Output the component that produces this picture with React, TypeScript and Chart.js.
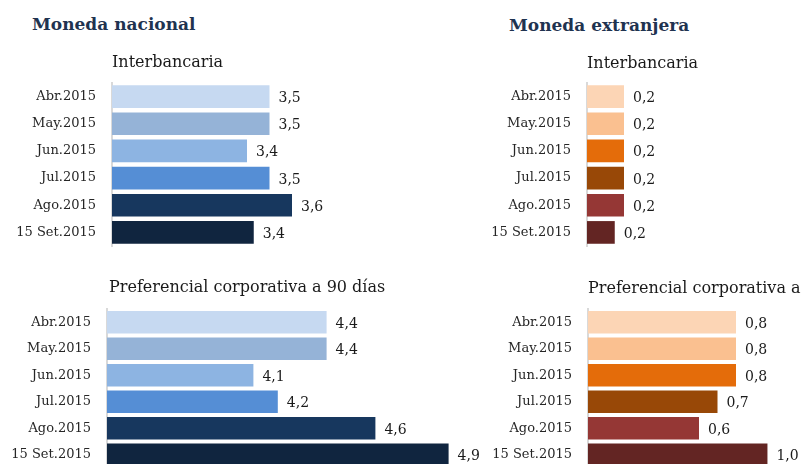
import React, { useEffect, useRef } from "react";
import { Chart, registerables } from "chart.js";

Chart.register(...registerables);

const categories = ["Abr.2015", "May.2015", "Jun.2015", "Jul.2015", "Ago.2015", "15 Set.2015"];

const mnInterbancaria = [3.5, 3.5, 3.4, 3.5, 3.6, 3.43];
const mnPreferencial = [4.4, 4.4, 4.1, 4.2, 4.6, 4.9];
const meInterbancaria = [0.2, 0.2, 0.2, 0.2, 0.2, 0.15];
const mePreferencial = [0.8, 0.8, 0.8, 0.7, 0.6, 0.97];

const blueColors = ["#C6D9F1", "#95B3D7", "#8DB4E2", "#558ED5", "#17375E", "#10253F"];
const orangeColors = ["#FCD5B5", "#FAC090", "#E46C0A", "#984807", "#953735", "#632523"];

const SERIF = "'DejaVu Serif', serif";

function fmt(v: number): string {
  return (Math.round(v * 10) / 10).toFixed(1).replace(".", ",");
}

const valueLabels = {
  id: "valueLabels",
  afterDatasetsDraw(chart: any) {
    const ctx = chart.ctx;
    const meta = chart.getDatasetMeta(0);
    const data = chart.data.datasets[0].data as number[];
    ctx.save();
    ctx.font = `14px ${SERIF}`;
    ctx.fillStyle = "#1a1a1a";
    ctx.textAlign = "left";
    ctx.textBaseline = "alphabetic";
    meta.data.forEach((bar: any, i: number) => {
      ctx.fillText(fmt(data[i]), bar.x + 9, bar.y + 5.5);
    });
    ctx.restore();
  },
};

const subtitlePlugin = {
  id: "subtitleAtAxis",
  afterDraw(chart: any, _args: any, opts: any) {
    const ctx = chart.ctx;
    ctx.save();
    ctx.font = `16px ${SERIF}`;
    ctx.fillStyle = "#1a1a1a";
    ctx.textAlign = "left";
    ctx.textBaseline = "alphabetic";
    ctx.fillText(opts.text, chart.chartArea.left + (opts.dx || 0), opts.y);
    ctx.restore();
  },
};

type PanelProps = {
  left: number;
  top: number;
  width: number;
  height: number;
  axisWidth: number;
  values: number[];
  colors: string[];
  min: number;
  max: number;
  subtitle: string;
  subtitleY: number;
  subtitleDx: number;
  barPct: number;
};

function BarPanel(p: PanelProps) {
  const ref = useRef<HTMLCanvasElement | null>(null);
  useEffect(() => {
    if (!ref.current) return;
    const chart = new Chart(ref.current, {
      type: "bar",
      data: {
        labels: categories,
        datasets: [
          {
            data: p.values,
            backgroundColor: p.colors,
            borderWidth: 0,
            barPercentage: p.barPct,
            categoryPercentage: 1,
          },
        ],
      },
      options: {
        indexAxis: "y",
        animation: false,
        responsive: false,
        maintainAspectRatio: false,
        devicePixelRatio: 1,
        layout: { padding: { top: 40, bottom: 2, left: 0, right: 0 } },
        plugins: {
          legend: { display: false },
          tooltip: { enabled: false },
          title: { display: false },
          subtitleAtAxis: { text: p.subtitle, y: p.subtitleY, dx: p.subtitleDx },
        } as any,
        scales: {
          x: {
            display: false,
            min: p.min,
            max: p.max,
            grid: { display: false },
          },
          y: {
            grid: { display: false, drawTicks: false },
            border: { display: true, color: "#D9D9D9", width: 2 },
            ticks: {
              padding: 16,
              color: "#262626",
              font: { family: SERIF, size: 13 },
            },
            afterFit(scale: any) {
              scale.width = p.axisWidth;
              scale.paddingTop = 0;
              scale.paddingBottom = 0;
            },
          },
        },
      },
      plugins: [valueLabels, subtitlePlugin],
    });
    return () => chart.destroy();
  }, []);
  return (
    <canvas
      ref={ref}
      width={p.width}
      height={p.height}
      style={{ position: "absolute", left: p.left, top: p.top, width: p.width, height: p.height }}
    />
  );
}

const headingStyle: React.CSSProperties = {
  position: "absolute",
  fontFamily: SERIF,
  fontWeight: "bold",
  fontSize: 17,
  lineHeight: "17px",
  color: "#1F3350",
  whiteSpace: "nowrap",
};

export default function App() {
  return (
    <div
      style={{
        position: "fixed",
        left: 0,
        top: 0,
        width: 801,
        height: 464,
        overflow: "hidden",
        background: "#ffffff",
      }}
    >
      <div style={{ ...headingStyle, left: 32, top: 16 }}>Moneda nacional</div>
      <div style={{ ...headingStyle, left: 509, top: 17 }}>Moneda extranjera</div>
      <BarPanel
        left={0}
        top={43}
        width={400}
        height={205}
        axisWidth={112}
        values={mnInterbancaria}
        colors={blueColors}
        min={2.8}
        max={2.8 + 288 / 225}
        subtitle="Interbancaria"
        subtitleY={24}
        subtitleDx={0}
        barPct={0.835}
      />
      <BarPanel
        left={420}
        top={43}
        width={381}
        height={205}
        axisWidth={167}
        values={meInterbancaria}
        colors={orangeColors}
        min={0}
        max={214 / 185}
        subtitle="Interbancaria"
        subtitleY={25}
        subtitleDx={0}
        barPct={0.835}
      />
      <BarPanel
        left={0}
        top={269}
        width={480}
        height={201}
        axisWidth={107}
        values={mnPreferencial}
        colors={blueColors}
        min={3.5}
        max={3.5 + 373 / 244}
        subtitle="Preferencial corporativa a 90 días"
        subtitleY={23}
        subtitleDx={2}
        barPct={0.855}
      />
      <BarPanel
        left={480}
        top={269}
        width={340}
        height={201}
        axisWidth={108}
        values={mePreferencial}
        colors={orangeColors}
        min={0}
        max={232 / 185}
        subtitle="Preferencial corporativa a 90 días"
        subtitleY={24}
        subtitleDx={0}
        barPct={0.855}
      />
    </div>
  );
}
